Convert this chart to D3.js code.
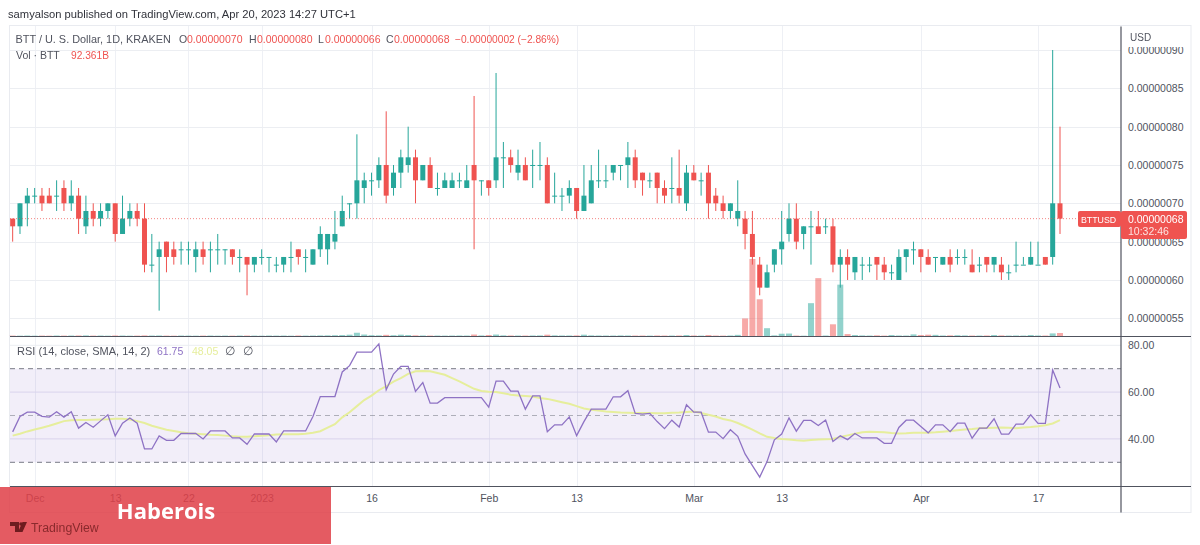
<!DOCTYPE html>
<html>
<head>
<meta charset="utf-8">
<script src="https://cdn.jsdelivr.net/npm/d3@7"></script>
<style>
  html, body { margin: 0; padding: 0; background: #fff; }
  svg { display: block; filter: blur(0.35px); }
  text { font-family: "Liberation Sans", Arial, sans-serif; }
</style>
</head>
<body>
<svg width="1200" height="545"></svg>
<script>
// prices are in units of 0.00000001 USD, volumes in billions
const opens = [68,67,70,71,71,71,71,72,70,71,67,69,68,69,70,66,68,69,68,62,63,65,64,64,64,63,64,64,64,64,64,63,63,62,63,63,62,62,63,64,
  63,62,64,64,65,67,70,70,72,73,73,75,72,74,75,76,73,75,72,72,72,73,72,75,73,73,73,76,76,74,75,75,75,75,71,71,71,72,69,70,
  73,73,74,75,75,76,74,73,74,72,72,72,70,74,73,74,71,70,69,68,68,66,62,59,62,64,66,68,66,67,67,67,67,62,63,61,62,62,63,62,
  61,60,63,64,64,63,63,62,63,63,63,62,62,63,62,62,61,62,62,62,62,63,63,70];
const highs = [68,70,72,72,72,72,73,73,73,72,71,70,70,70,70,71,70,70,70,66,65,65,65,65,65,65,65,65,66,64,64,64,63,63,64,63,63,63,65,64,
  64,64,67,66,69,71,70,79,74,74,76,82,75,77,80,77,75,76,74,74,74,74,75,84,73,73,87,78,77,77,76,77,78,76,74,72,73,72,75,75,
  77,75,75,75,78,77,74,74,74,73,76,77,75,75,74,75,72,71,70,73,69,69,63,62,64,69,70,70,67,69,69,68,68,64,64,63,63,63,63,63,
  62,64,64,65,64,64,63,63,64,64,64,64,63,63,63,63,62,65,63,65,65,63,90,80];
const lows = [65,66,67,70,69,70,69,69,69,66,66,67,67,68,65,66,67,67,61,61,56,61,62,62,62,61,62,61,62,62,62,61,58,61,62,61,61,61,61,62,
  61,62,63,62,64,67,68,68,70,71,72,70,71,72,74,70,73,72,71,72,72,72,72,64,71,71,72,72,74,73,73,72,73,70,70,69,70,68,69,70,
  72,72,73,73,72,72,71,72,70,70,70,70,69,73,71,68,69,68,68,67,64,62,58,59,61,62,65,64,64,62,66,66,61,59,60,60,60,61,60,60,
  60,60,61,62,61,62,61,62,61,62,62,61,61,61,61,60,60,61,62,62,62,62,62,66];
const closes = [67,70,71,71,70,70,71,70,71,68,69,68,69,70,66,68,69,68,62,62,64,63,63,64,64,64,63,64,64,64,63,63,62,63,63,63,62,63,63,63,
  63,64,66,66,66,69,70,73,73,73,75,71,74,76,76,73,75,72,72,73,73,73,73,73,73,72,76,76,75,75,73,75,75,70,71,71,72,69,71,73,
  73,73,75,75,76,73,73,73,72,71,72,71,74,73,73,70,70,69,70,69,66,63,59,61,64,65,68,65,67,67,66,67,62,63,62,63,62,62,62,61,
  61,63,64,64,63,62,63,63,62,63,63,61,62,62,63,61,61,62,62,63,62,62,70,68];
const volumes = [12,10,14,10,12,10,14,12,14,16,18,12,14,10,16,14,10,12,18,14,16,12,10,14,12,10,12,14,10,12,10,14,14,12,10,14,12,14,10,16,
  12,14,18,20,24,30,40,100,45,25,20,35,25,40,30,20,16,14,14,12,14,16,14,45,18,30,45,20,16,14,14,16,18,40,20,16,16,18,40,20,
  16,14,14,18,16,14,14,12,16,14,14,16,30,16,12,30,14,12,16,35,540,2370,1130,240,20,70,75,14,10,1010,1780,14,360,1580,60,30,18,14,20,12,
  30,16,14,50,30,40,35,16,20,24,18,14,14,16,30,18,14,16,14,30,16,14,80,92];
const rsi = [43,49.6,51.4,51.4,49.6,49.3,51.6,49.3,51.6,44.6,47,45,47.7,50.3,41.3,46.7,48.9,46.7,35.7,35.7,41.3,39.4,39.4,42.3,42.3,42.3,40,43.4,43.4,43.4,40.4,40.4,37.7,42.1,42.1,42.1,38.7,43.4,43.4,43.4,
  43.4,49.6,58.1,58.1,58.1,68.6,71.3,77.1,77.1,77.1,80.6,61,67.7,71,71,60.3,64.1,55.3,55.3,57.6,57.6,57.6,57.6,57.6,57.6,53.6,64.7,64.7,60.4,60.4,52.7,58.4,58.4,43.1,46,46,49.4,41.4,47.4,52.7,
  52.7,52.7,58,58,60.6,50.9,50.6,50.9,47.4,44.4,48,45.1,54.6,51.4,51.4,42.9,42.9,40.1,43.9,41.1,33.6,28.6,23.7,30.3,39.6,42.1,49,43.3,47.9,47.9,45.7,48.1,38.9,41.3,39.7,42.3,40.4,40.4,40.4,38.1,
  38.1,44.9,48,48,45.3,42.6,46,46,43.1,46.7,46.7,40.3,44.6,44.6,48.6,42,42,46.3,46.3,50.3,46.6,46.6,69.4,61.75];
const rsiSma = [41.4,42.2,43.2,44,44.8,45.6,46.6,47.6,48,48.1,48.1,48.2,48.3,48.4,48.6,48.6,48.3,47.6,46.8,45.6,44.8,43.9,43.4,42.8,42.4,42.2,42,41.8,41.7,41.4,41.1,40.9,40.9,41.1,41.3,41.6,41.9,42,42,42,
  42.2,42.6,43.3,44.8,46.3,49.2,51.4,54,56.6,58.5,60.8,62.5,64.5,66,67.8,68.9,69,68.9,68.2,67.4,66,64.6,63,61.4,60.5,60.1,60,59.5,58.9,58.5,58.3,58.1,57.5,57.1,56.4,55.7,55,54,53,52.5,
  52.1,51.7,51.5,51.3,51.2,51.1,51.1,51.1,51,51,51.2,51.3,51.5,51.7,51.1,50.3,49.6,48.5,47.9,46.8,45.4,44,42.4,40.9,40.4,40,39.7,39.4,39.2,39.5,39.7,39.9,40,40.8,41.5,42.2,42.8,43.1,43,42.8,
  42.5,42.3,42.4,42.6,42.6,42.6,42.8,43.1,43.4,43.7,44,44.2,44.5,44.7,44.8,44.9,44.8,44.6,44.9,45.1,45.4,45.8,46.6,48.05];
const priceTicks = [55,60,65,70,75,80,85,90];
const rsiTicks = [80,60,40];
const timeTickIdx = [3,14,24,34,49,65,77,93,105,124,140];
const timeTickLabels = ["Dec","13","22","2023","16","Feb","13","Mar","13","Apr","17"];
const lastPrice = 68;

const up = "#26a69a", down = "#ef5350", grey = "#50535e";
const paneLeft = 10, paneRight = 1121, paneTop = 26, priceBottom = 336, rsiBottom = 486, axisBottom = 512, frameRight = 1191;

const svg = d3.select("svg");

const x = d3.scaleLinear().domain([0, 143]).range([12.67, 1060]);
const y = d3.scaleLinear().domain([55, 90]).range([318.3, 50]);
const yVol = d3.scaleLinear().domain([0, 2400]).range([priceBottom, 258]);
const yRsi = d3.scaleLinear().domain([30, 80]).range([462.3, 345.3]);

// frame and grid
svg.append("rect").attr("x", 9.5).attr("y", 25.5).attr("width", frameRight - 9.5).attr("height", axisBottom - 25)
    .attr("fill", "#fff").attr("stroke", "#e9ebf0");

svg.append("g").selectAll("line").data(timeTickIdx).enter().append("line")
    .attr("x1", d => Math.round(x(d)) + 0.5).attr("x2", d => Math.round(x(d)) + 0.5)
    .attr("y1", paneTop).attr("y2", rsiBottom)
    .attr("stroke", "#eef0f5");

svg.append("g").selectAll("line").data(priceTicks).enter().append("line")
    .attr("x1", paneLeft).attr("x2", paneRight)
    .attr("y1", d => Math.round(y(d)) + 0.5).attr("y2", d => Math.round(y(d)) + 0.5)
    .attr("stroke", "#eceef2");

// rsi background
svg.append("rect").attr("x", paneLeft).attr("width", paneRight - paneLeft)
    .attr("y", yRsi(70)).attr("height", yRsi(30) - yRsi(70))
    .attr("fill", "#7e57c2").attr("opacity", 0.1);

svg.append("g").selectAll("line").data(rsiTicks).enter().append("line")
    .attr("x1", paneLeft).attr("x2", paneRight)
    .attr("y1", d => yRsi(d)).attr("y2", d => yRsi(d))
    .attr("stroke", d => d == 80 ? "#eceef2" : "#d9d3ec");

svg.append("g").selectAll("line").data([70, 50, 30]).enter().append("line")
    .attr("x1", paneLeft).attr("x2", paneRight)
    .attr("y1", d => yRsi(d)).attr("y2", d => yRsi(d))
    .attr("stroke", "#787b86").attr("stroke-dasharray", "5,4")
    .attr("opacity", d => d == 50 ? 0.55 : 1);

// volume
const barColor = i => closes[i] >= opens[i] ? up : down;
svg.append("g").selectAll("rect").data(volumes).enter().append("rect")
    .attr("x", (d, i) => x(i) - 3)
    .attr("width", 6)
    .attr("y", d => yVol(d))
    .attr("height", d => priceBottom - yVol(d))
    .attr("fill", (d, i) => barColor(i))
    .attr("opacity", 0.5);

// candles
const candles = svg.append("g").selectAll("g").data(opens).enter().append("g");
candles.append("line")
    .attr("x1", (d, i) => x(i)).attr("x2", (d, i) => x(i))
    .attr("y1", (d, i) => y(highs[i])).attr("y2", (d, i) => y(lows[i]))
    .attr("stroke", (d, i) => barColor(i));
candles.append("rect")
    .attr("x", (d, i) => x(i) - 2.5)
    .attr("width", 5)
    .attr("y", (d, i) => y(Math.max(opens[i], closes[i])))
    .attr("height", (d, i) => Math.max(1, Math.abs(y(opens[i]) - y(closes[i]))))
    .attr("fill", (d, i) => barColor(i));

// last price line
svg.append("line").attr("x1", paneLeft).attr("x2", 1079)
    .attr("y1", y(lastPrice)).attr("y2", y(lastPrice))
    .attr("stroke", down).attr("stroke-dasharray", "1,2").attr("opacity", 0.7);

// rsi lines
const rsiLine = d3.line().x((d, i) => x(i)).y(d => yRsi(d));
svg.append("path").datum(rsiSma).attr("d", rsiLine)
    .attr("fill", "none").attr("stroke", "#e6ee9c").attr("stroke-width", 2);
svg.append("path").datum(rsi).attr("d", rsiLine)
    .attr("fill", "none").attr("stroke", "#8e72c4").attr("stroke-width", 1.3);

// pane borders
[[paneLeft, priceBottom, paneRight + 70, priceBottom],
 [paneLeft, rsiBottom, paneRight + 70, rsiBottom],
 [paneRight, paneTop, paneRight, axisBottom]].forEach(l => {
    svg.append("line").attr("x1", l[0]).attr("y1", l[1] + 0.5).attr("x2", l[2]).attr("y2", l[3] + 0.5)
        .attr("stroke", grey).attr("stroke-width", 1.2);
});

// axes
const priceAxis = svg.append("g").attr("transform", `translate(${paneRight},0)`)
    .call(d3.axisRight(y).tickValues(priceTicks).tickSize(0).tickPadding(7).tickFormat(d => (d / 1e8).toFixed(8)));
const rsiAxis = svg.append("g").attr("transform", `translate(${paneRight},0)`)
    .call(d3.axisRight(yRsi).tickValues(rsiTicks).tickSize(0).tickPadding(7).tickFormat(d => d.toFixed(2)));
const timeAxis = svg.append("g").attr("transform", `translate(0,${rsiBottom})`)
    .call(d3.axisBottom(x).tickValues(timeTickIdx).tickSize(0).tickPadding(9).tickFormat((d, i) => timeTickLabels[i]));
[priceAxis, rsiAxis, timeAxis].forEach(a => {
    a.select(".domain").remove();
    a.selectAll("text").attr("fill", grey).attr("font-size", 10.5).style("font-family", '"Liberation Sans", Arial, sans-serif');
});

// usd corner hides the top of the first label
svg.append("rect").attr("x", paneRight + 1).attr("y", paneTop).attr("width", 68).attr("height", 21).attr("fill", "#fff");
svg.append("text").attr("x", 1130).attr("y", 41).attr("font-size", 10).attr("fill", grey).text("USD");

// last price labels
svg.append("rect").attr("x", 1078).attr("y", 211).attr("width", 43).attr("height", 16).attr("rx", 2).attr("fill", down);
svg.append("rect").attr("x", paneRight).attr("y", 211).attr("width", 66).attr("height", 28).attr("rx", 2).attr("fill", down);
svg.append("text").attr("x", 1081).attr("y", 222.5).attr("font-size", 8.8).attr("fill", "#fff").text("BTTUSD");
svg.append("text").attr("x", 1128).attr("y", 222.5).attr("font-size", 10.5).attr("fill", "#fff").text("0.00000068");
svg.append("text").attr("x", 1128).attr("y", 235).attr("font-size", 10.5).attr("fill", "#fde3e2").text("10:32:46");

// header and legends
const legend = (tx, ty, s, fill, size) => svg.append("text").attr("x", tx).attr("y", ty)
    .attr("font-size", size || 10.5).attr("fill", fill).text(s);
legend(8, 18, "samyalson published on TradingView.com, Apr 20, 2023 14:27 UTC+1", "#30323a", 11.2);
legend(15.5, 43, "BTT / U. S. Dollar, 1D, KRAKEN", grey, 10.9);
legend(179, 43, "O", grey);
legend(187, 43, "0.00000070", down);
legend(249, 43, "H", grey);
legend(257, 43, "0.00000080", down);
legend(318, 43, "L", grey);
legend(325, 43, "0.00000066", down);
legend(386, 43, "C", grey);
legend(394, 43, "0.00000068", down);
legend(455, 43, "\u22120.00000002 (\u22122.86%)", down, 10.2);
legend(16, 59, "Vol \u00b7 BTT", grey);
legend(71, 59, "92.361B", down, 10.2);
legend(17, 355, "RSI (14, close, SMA, 14, 2)", grey, 11);
legend(157, 355, "61.75", "#8e72c4");
legend(192, 355, "48.05", "#e6ee9c");
legend(225, 355, "\u2205", grey, 12);
legend(243, 355, "\u2205", grey, 12);

// watermark banner
const banner = svg.append("g");
banner.append("rect").attr("x", 0).attr("y", 487).attr("width", 331).attr("height", 57)
    .attr("fill", "#e04048").attr("opacity", 0.86);
banner.append("text").attr("x", 166).attr("y", 519).attr("text-anchor", "middle")
    .attr("font-size", 22).attr("font-weight", "bold").attr("fill", "#fff")
    .style("font-family", '"Open Sans", sans-serif').text("Haberois");
banner.append("path").attr("d", "M10 522h9v10h-4v-6h-5z M27 522l-4.5 10h-4.5l4.5-10z")
    .attr("fill", "#6e1c1f");
banner.append("circle").attr("cx", 21).attr("cy", 524).attr("r", 1.8).attr("fill", "#6e1c1f");
banner.append("text").attr("x", 31).attr("y", 532).attr("font-size", 12.3).attr("fill", "#8a2a2d").text("TradingView");
</script>
</body>
</html>
